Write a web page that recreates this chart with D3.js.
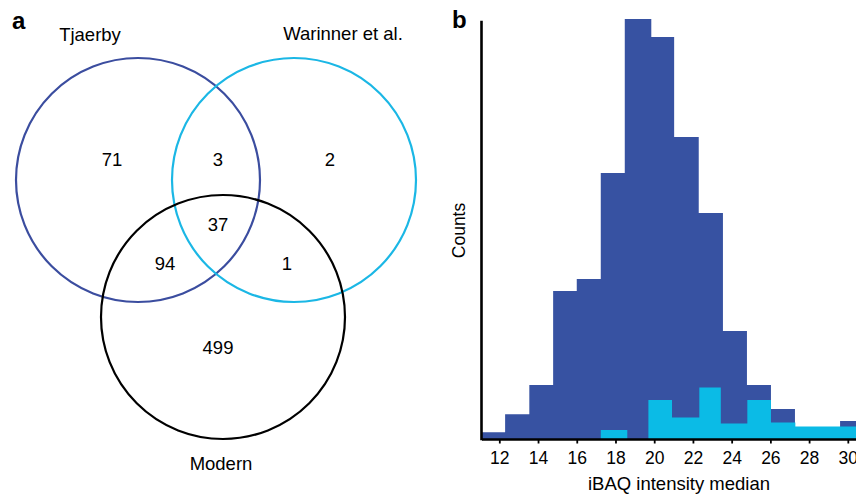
<!DOCTYPE html>
<html>
<head>
<meta charset="utf-8">
<script src="https://cdn.jsdelivr.net/npm/d3@7"></script>
<style>
  body { margin: 0; background: #fff; }
  svg { display: block; font-family: "Liberation Sans", Arial, Helvetica, sans-serif; }
</style>
</head>
<body>
<script>
// Venn: set names and region counts
const setNames = ["Tjaerby", "Warinner et al.", "Modern"];
const regionKeys = ["T", "TW", "W", "TWM", "TM", "WM", "M"];
const regionCounts = [71, 3, 2, 37, 94, 1, 499];

// histogram b: bin edges (iBAQ) and counts
const darkEdges = [11.1, 12.3, 13.55, 14.78, 16.0, 17.24, 18.48, 19.85, 21.03, 22.3, 23.55, 24.79, 26.03, 27.27, 28.5, 29.6, 30.9];
const darkCounts = [3.4, 12.4, 27, 74, 80, 133, 210, 201, 151, 113, 54, 27, 15, 6, 6, 9];
const cyanEdges = [17.24, 18.61, 19.7, 20.92, 22.33, 23.44, 24.81, 26.03, 27.29, 28.5, 29.7, 30.9];
const cyanCounts = [4.5, 0, 19.5, 10.7, 25.7, 7.8, 19.5, 8.2, 6.2, 6.2, 6.2];
const xTicks = [12, 14, 16, 18, 20, 22, 24, 26, 28, 30];

const width = 856, height = 494;
const svg = d3.select("body").append("svg")
    .attr("width", width)
    .attr("height", height);

// ---------- panel a ----------
const r = 122;
const circles = [
    { name: setNames[0], cx: 138, cy: 180, color: "#3b4d9f", lx: 90, ly: 41 },
    { name: setNames[1], cx: 294, cy: 180, color: "#1bb7e5", lx: 343, ly: 40 },
    { name: setNames[2], cx: 223, cy: 317, color: "#000000", lx: 221, ly: 470 }
];
// label spots for each region
const spots = {
    T: [112, 165.5], TW: [218, 165.5], W: [330, 165.5],
    TWM: [218, 231], TM: [165, 269.5], WM: [287, 269.5], M: [218, 353.5]
};

const pa = svg.append("g");
pa.selectAll("circle")
    .data(circles)
    .enter()
    .append("circle")
    .attr("cx", d => d.cx)
    .attr("cy", d => d.cy)
    .attr("r", r)
    .attr("fill", "none")
    .attr("stroke", d => d.color)
    .attr("stroke-width", 2.2);

pa.selectAll("text.set")
    .data(circles)
    .enter()
    .append("text")
    .attr("class", "set")
    .attr("x", d => d.lx)
    .attr("y", d => d.ly)
    .attr("text-anchor", "middle")
    .style("font-size", "18.5px")
    .text(d => d.name);

pa.selectAll("text.num")
    .data(regionKeys.map((k, i) => ({ key: k, value: regionCounts[i] })))
    .enter()
    .append("text")
    .attr("class", "num")
    .attr("x", d => spots[d.key][0])
    .attr("y", d => spots[d.key][1])
    .attr("text-anchor", "middle")
    .style("font-size", "18.5px")
    .text(d => d.value);

svg.append("text")
    .attr("x", 12).attr("y", 29)
    .style("font-size", "24px").style("font-weight", "bold")
    .text("a");

// ---------- panel b ----------
const x = d3.scaleLinear().domain([11.08, 30.5]).range([481.5, 857.5]);
const y = d3.scaleLinear().domain([0, 210]).range([439, 19]);

// step outline: each bin gives two points (left edge, right edge) at its count
const steps = (edges, counts) => counts.flatMap((c, i) => [[edges[i], c], [edges[i + 1], c]]);
const area = d3.area()
    .x(d => x(d[0]))
    .y0(y(0))
    .y1(d => y(d[1]));

const pb = svg.append("g");
pb.append("path")
    .datum(steps(darkEdges, darkCounts))
    .attr("d", area)
    .attr("fill", "#3752a2");

pb.append("path")
    .datum(steps(cyanEdges, cyanCounts))
    .attr("d", area)
    .attr("fill", "#0bbbe6");

// axes
const xAxis = pb.append("g")
    .attr("transform", `translate(0,${y(0)})`)
    .call(d3.axisBottom(x).tickValues(xTicks).tickSize(4.5).tickSizeOuter(0).tickPadding(8.3));
xAxis.select(".domain").attr("stroke-width", 2.6);
xAxis.selectAll(".tick line").attr("stroke-width", 1.8);
xAxis.selectAll(".tick text")
    .style("font-size", "17.5px")
    .style("font-family", "Liberation Sans, Arial, sans-serif")
    .attr("fill", "#000");

pb.append("line")
    .attr("x1", x(11.08)).attr("x2", x(11.08))
    .attr("y1", y(0) + 1.3).attr("y2", y(209.1))
    .attr("stroke", "#000")
    .attr("stroke-width", 2.6);

pb.append("text")
    .attr("transform", "translate(465,230.5) rotate(-90)")
    .attr("text-anchor", "middle")
    .style("font-size", "17.5px")
    .text("Counts");

pb.append("text")
    .attr("x", 679).attr("y", 490)
    .attr("text-anchor", "middle")
    .style("font-size", "18.5px")
    .text("iBAQ intensity median");

svg.append("text")
    .attr("x", 452).attr("y", 28)
    .style("font-size", "24px").style("font-weight", "bold")
    .text("b");
</script>
</body>
</html>
